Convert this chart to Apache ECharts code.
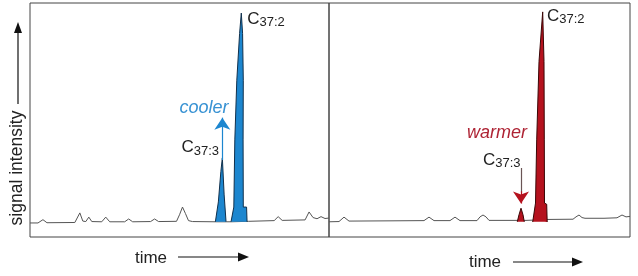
<!DOCTYPE html>
<html>
<head>
<meta charset="utf-8">
<script src="https://cdn.jsdelivr.net/npm/echarts@6/dist/echarts.min.js"></script>
<style>
  html, body { margin: 0; padding: 0; background: #fff; }
  #chart { width: 638px; height: 276px; }
</style>
</head>
<body>
<div id="chart"></div>
<script>
// ==================== 数据 ====================
// 时间为任意单位(每个面板 0-300), 信号强度 0-100

// 左图(cooler) 基线色谱
const leftTime   = [0, 8, 13, 17, 45, 50, 53, 56, 59, 62, 72, 76, 80, 95, 99, 103, 121, 125, 129, 147, 150, 153, 156, 159, 163, 186, 197, 202, 219, 245, 249, 253, 276, 280, 284, 288, 292, 296, 300];
const leftSignal = [6.0, 6.0, 7.4, 6.1, 6.2, 10.3, 6.8, 6.6, 8.5, 6.6, 6.5, 8.5, 6.5, 6.5, 7.7, 6.5, 6.6, 7.7, 6.6, 6.7, 9.5, 12.8, 10.0, 7.0, 6.6, 6.5, 6.5, 6.5, 6.7, 7.0, 8.7, 7.1, 7.3, 10.7, 8.3, 7.8, 8.7, 7.9, 8.1];

// 左图峰: C37:3 与 C37:2
const leftC373Time   = [186, 189, 191.5, 193, 194.8, 196.7];
const leftC373Signal = [6.5, 15, 28, 33.8, 18, 6.5];
const leftC372Time   = [201.7, 204.5, 205.5, 207.5, 210.3, 212, 213.3, 214, 213.8, 214, 217.3, 217.8];
const leftC372Signal = [6.5, 12.8, 41.5, 67, 87, 95.7, 87, 67, 41.5, 12.8, 12.8, 6.5];

// 右图(warmer) 基线色谱
const rightTime   = [0, 10, 15, 20, 60, 95, 100, 105, 121, 126, 131, 148, 151, 154, 157, 160, 186, 197, 203, 219, 244, 247, 250, 253, 256, 275, 288, 293, 297, 301];
const rightSignal = [6.5, 6.6, 8.5, 6.8, 6.9, 7.0, 8.5, 7.0, 7.0, 8.5, 7.0, 7.0, 8.6, 9.4, 8.6, 7.1, 7.1, 7.1, 7.2, 7.5, 7.6, 8.6, 9.4, 8.3, 8.0, 8.0, 8.2, 9.4, 8.6, 8.8];

// 右图峰
const rightC373Time   = [188.3, 190, 192, 194, 195.3];
const rightC373Signal = [6.5, 9.5, 12.3, 9.5, 6.5];
const rightC372Time   = [203.7, 206.5, 207.7, 210, 213.7, 215, 215.3, 215.5, 217.7, 218.2];
const rightC372Signal = [6.4, 14.5, 41.5, 75, 96.2, 75, 41.5, 14.5, 14, 6.4];

// ==================== 样式 ====================
const FONT = "'Liberation Sans', Arial, sans-serif";
const BLUE = '#1c86cf';
const RED = '#b5121e';
const zip = (t, s) => t.map((v, i) => [v, s[i]]);

const richLabel = {
  c: { fontSize: 17, color: '#222', fontFamily: FONT, lineHeight: 20 },
  s: { fontSize: 13, color: '#222', fontFamily: FONT, lineHeight: 13, verticalAlign: 'bottom', padding: [8, 0, 0, 0] }
};

function traceSeries(axis, data, labels) {
  return {
    type: 'line',
    xAxisIndex: axis, yAxisIndex: axis,
    data: data,
    showSymbol: false,
    silent: true,
    lineStyle: { color: '#555', width: 1 },
    z: 2,
    markPoint: {
      symbol: 'circle', symbolSize: 1,
      itemStyle: { color: 'rgba(0,0,0,0)' },
      silent: true,
      label: { show: true, position: 'inside', align: 'left', verticalAlign: 'middle', rich: richLabel, fontFamily: FONT },
      data: labels
    }
  };
}

function peakSeries(axis, data, fill, edge, arrows) {
  return {
    type: 'line',
    xAxisIndex: axis, yAxisIndex: axis,
    data: data,
    showSymbol: false,
    silent: true,
    lineStyle: { color: edge, width: 1 },
    areaStyle: { color: fill, opacity: 1, origin: 6.5 },
    z: 3,
    markLine: arrows ? {
      silent: true,
      animation: false,
      label: { show: false },
      data: arrows
    } : undefined
  };
}

const chemLabel = (t, s, sub) => ({ coord: [t, s], label: { formatter: '{c|C}{s|' + sub + '}' } });
const wordLabel = (t, s, text, color) => ({
  coord: [t, s],
  label: { formatter: text, fontStyle: 'italic', fontSize: 18, color: color, fontFamily: FONT }
});
const arrowLine = (t, s0, s1, color, head) => [
  { coord: [t, s0], symbol: 'none', lineStyle: { color: color, width: 1.2, type: 'solid' } },
  { coord: [t, s1], symbol: head ? 'arrow' : 'none', symbolSize: 12 }
];

const option = {
  backgroundColor: '#fff',
  animation: false,
  grid: [
    { left: 30, top: 3, width: 299, height: 234, show: true, borderColor: '#444', borderWidth: 1 },
    { left: 329, top: 3, width: 301, height: 234, show: true, borderColor: '#444', borderWidth: 1 }
  ],
  xAxis: [
    { type: 'value', gridIndex: 0, min: 0, max: 300, show: false },
    { type: 'value', gridIndex: 1, min: 0, max: 301, show: false }
  ],
  yAxis: [
    { type: 'value', gridIndex: 0, min: 0, max: 100, show: false },
    { type: 'value', gridIndex: 1, min: 0, max: 100, show: false }
  ],
  series: [
    traceSeries(0, zip(leftTime, leftSignal), [
      chemLabel(218, 93.2, '37:2'),
      chemLabel(152, 38.2, '37:3'),
      wordLabel(150, 55.1, 'cooler', '#3892d3')
    ]),
    peakSeries(0, zip(leftC373Time, leftC373Signal), BLUE, '#10304c', [
      arrowLine(193, 32.9, 51, BLUE, true)
    ]),
    peakSeries(0, zip(leftC372Time, leftC372Signal), BLUE, '#10304c'),
    traceSeries(1, zip(rightTime, rightSignal), [
      chemLabel(218, 94.4, '37:2'),
      chemLabel(154, 32.9, '37:3'),
      wordLabel(138, 44.4, 'warmer', '#ae2334')
    ]),
    peakSeries(1, zip(rightC373Time, rightC373Signal), RED, '#3a0606', [
      arrowLine(192, 29.5, 19, '#6a5555', false),
      arrowLine(192, 19.5, 14.3, RED, true)
    ]),
    peakSeries(1, zip(rightC372Time, rightC372Signal), RED, '#3a0606')
  ],
  graphic: [
    // y 轴标题
    { type: 'text', x: 17, y: 168, rotation: Math.PI / 2, silent: true,
      style: { text: 'signal intensity', fontSize: 17.5, fontFamily: FONT, fill: '#222', align: 'center', verticalAlign: 'middle' } },
    { type: 'line', silent: true, shape: { x1: 18, y1: 104, x2: 18, y2: 30 }, style: { stroke: '#111', lineWidth: 1.2 } },
    { type: 'polygon', silent: true, shape: { points: [[18, 22], [14, 33], [22, 33]] }, style: { fill: '#111' } },
    // x 轴标题 (左)
    { type: 'text', x: 151, y: 258, silent: true,
      style: { text: 'time', fontSize: 17, fontFamily: FONT, fill: '#222', align: 'center', verticalAlign: 'middle' } },
    { type: 'line', silent: true, shape: { x1: 178, y1: 257, x2: 240, y2: 257 }, style: { stroke: '#111', lineWidth: 1.2 } },
    { type: 'polygon', silent: true, shape: { points: [[249, 257], [238, 252.5], [238, 261.5]] }, style: { fill: '#111' } },
    // x 轴标题 (右)
    { type: 'text', x: 485, y: 262, silent: true,
      style: { text: 'time', fontSize: 17, fontFamily: FONT, fill: '#222', align: 'center', verticalAlign: 'middle' } },
    { type: 'line', silent: true, shape: { x1: 513, y1: 262, x2: 574, y2: 262 }, style: { stroke: '#111', lineWidth: 1.2 } },
    { type: 'polygon', silent: true, shape: { points: [[583, 262], [572, 257.5], [572, 266.5]] }, style: { fill: '#111' } }
  ]
};

const chart = echarts.init(document.getElementById('chart'), null, { renderer: 'canvas' });
chart.setOption(option);
</script>
</body>
</html>
